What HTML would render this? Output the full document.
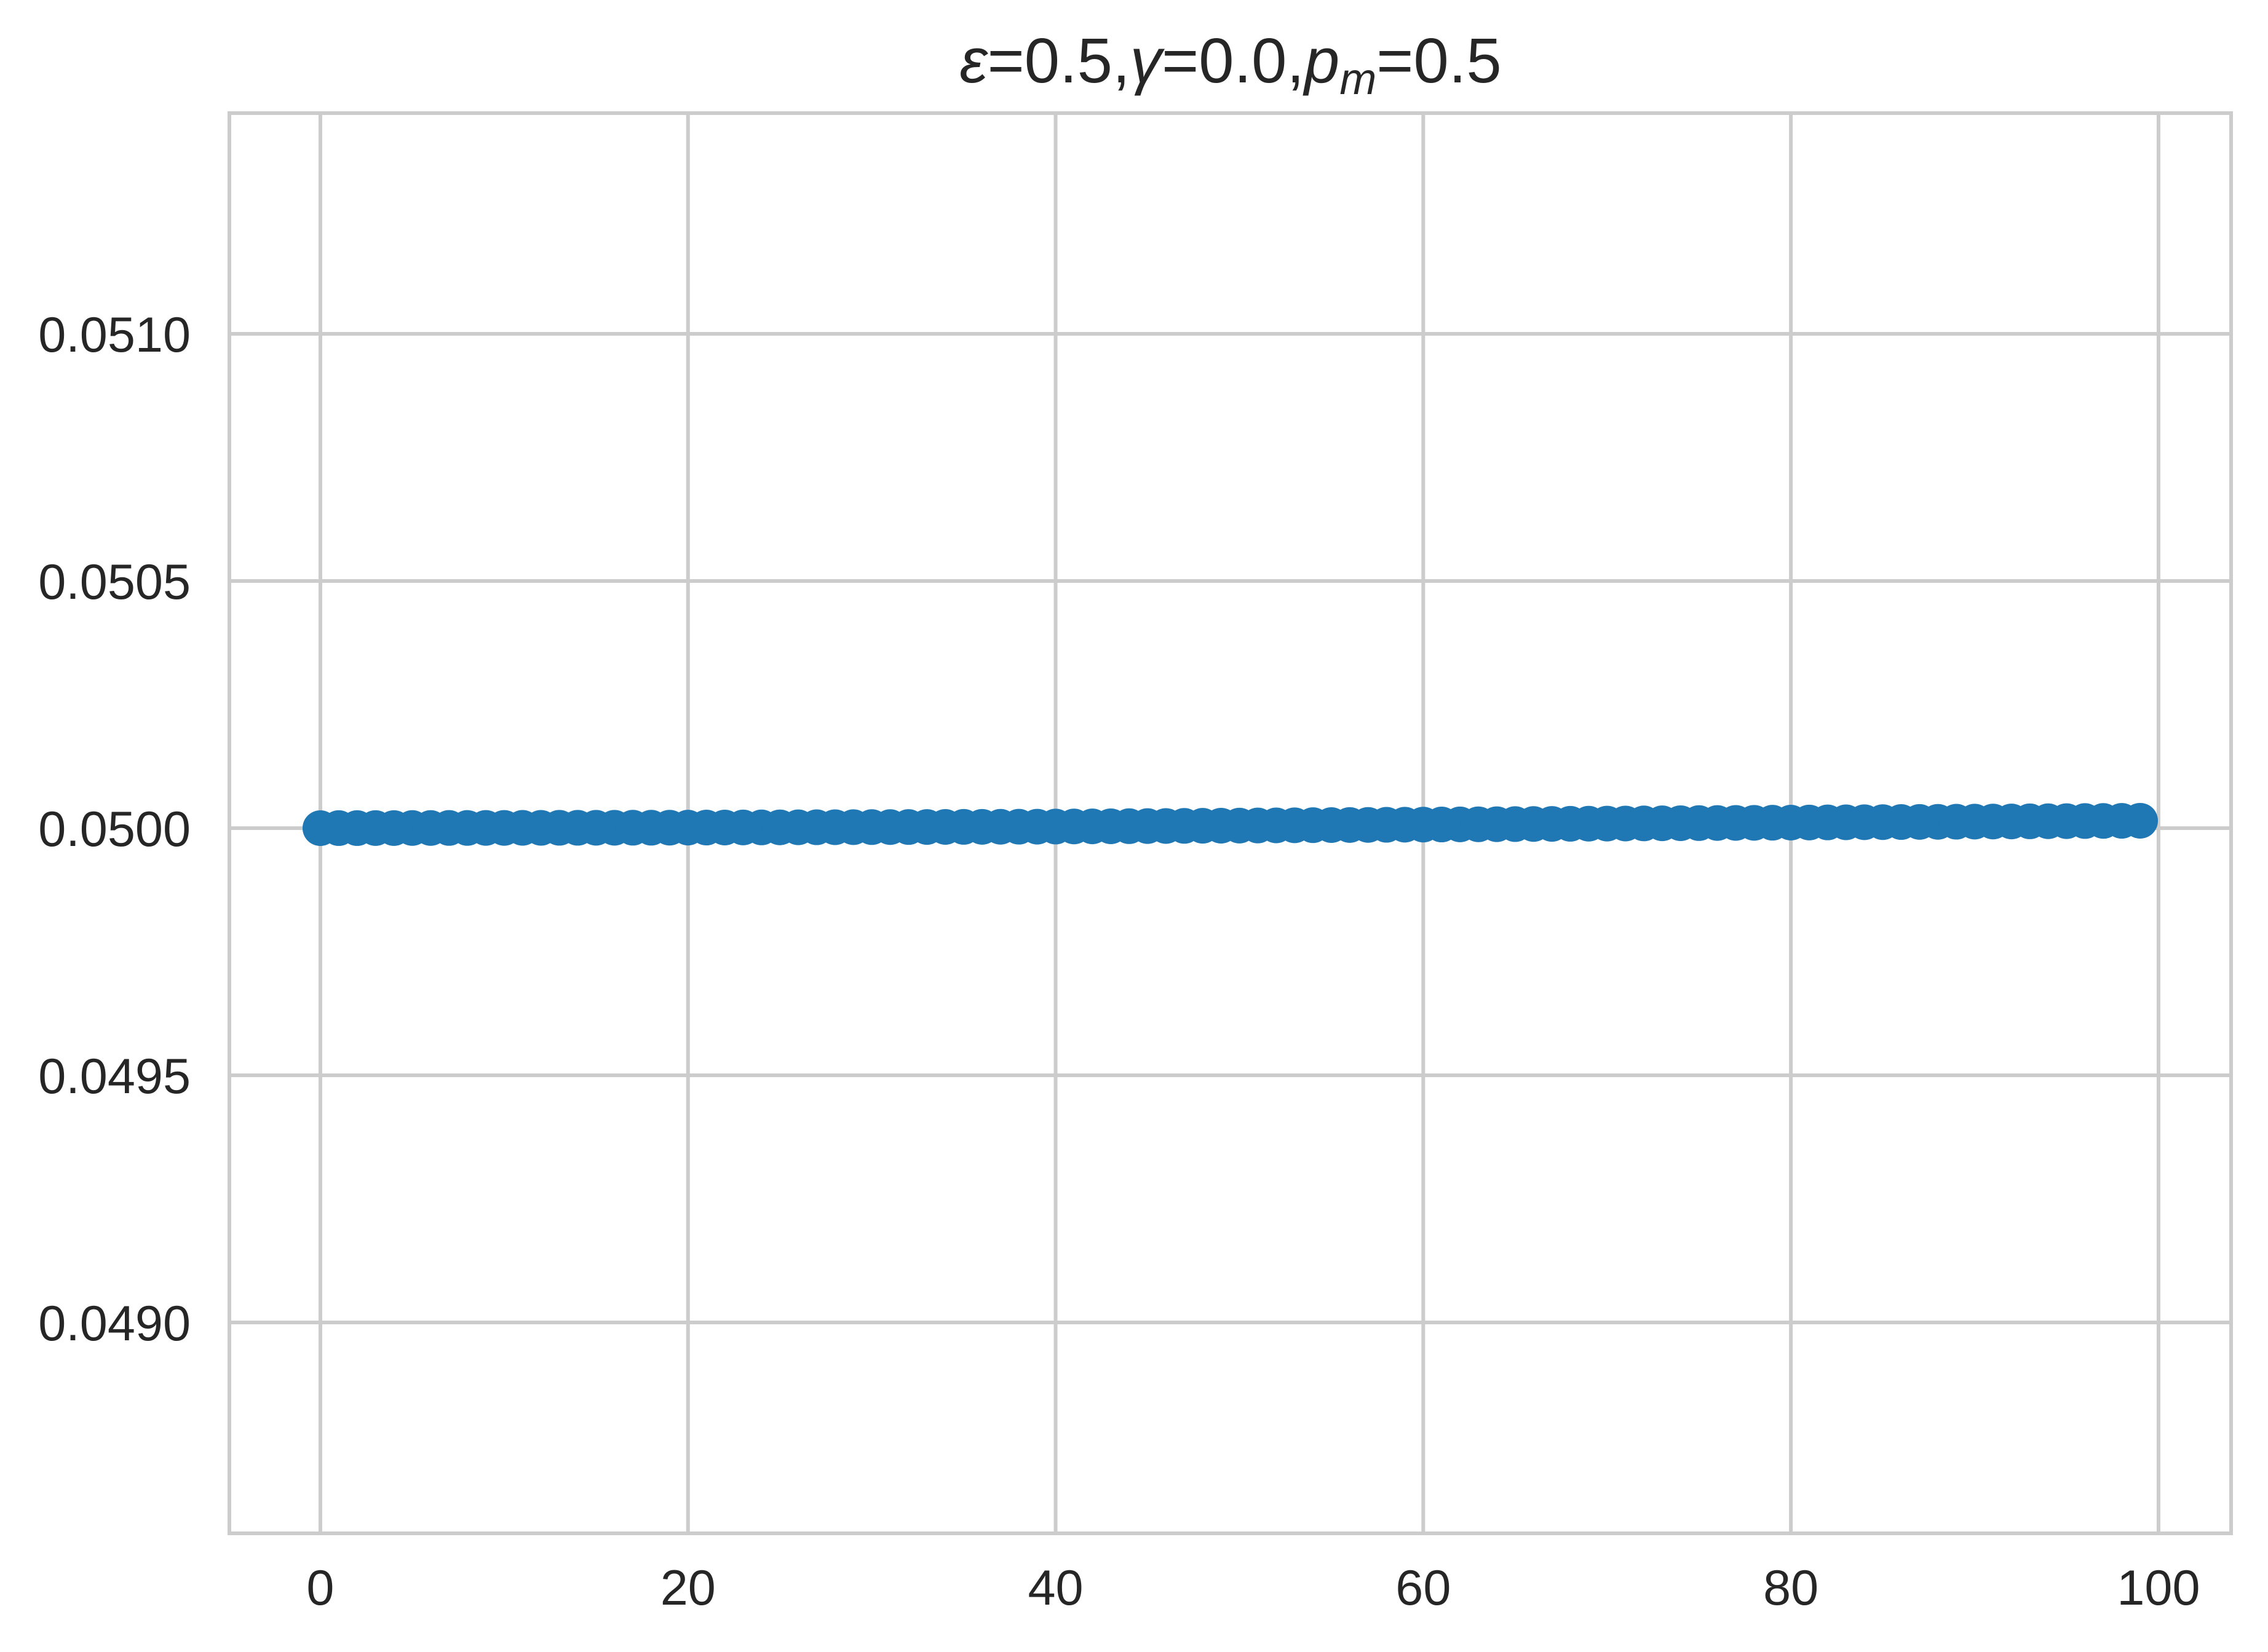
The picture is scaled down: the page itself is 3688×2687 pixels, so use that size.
<!DOCTYPE html>
<html><head><meta charset="utf-8"><style>
html,body{margin:0;padding:0;background:#fff;}
svg{display:block;font-family:"Liberation Sans",Arial,sans-serif;}
</style></head><body>
<svg id="chart" width="3688" height="2687" viewBox="0 0 3688 2687" xmlns="http://www.w3.org/2000/svg">
<rect x="0" y="0" width="3688" height="2687" fill="#ffffff"/>
<g id="grid"></g>
<g id="series"></g>
<rect x="373" y="184" width="3255" height="2310" fill="none" stroke="#cccccc" stroke-width="6"/>
<g id="xticks"></g>
<g id="yticks"></g>
<text x="2001" y="134" text-anchor="middle" font-size="103" fill="#262626"><tspan font-style="italic">ε</tspan>=0.5,<tspan font-style="italic">γ</tspan>=0.0,<tspan font-style="italic">p</tspan><tspan font-style="italic" font-size="72" dy="19">m</tspan><tspan dy="-19">=0.5</tspan></text>
</svg>
<script>
const xTicks = [0, 20, 40, 60, 80, 100];
const yTicks = [0.0490, 0.0495, 0.0500, 0.0505, 0.0510];
const yTickLabels = ["0.0490", "0.0495", "0.0500", "0.0505", "0.0510"];
const values = [
0.0500000,0.0500001,0.0500001,0.0500002,0.0500002,0.0500003,0.0500003,0.0500004,0.0500004,0.0500005,
0.0500005,0.0500006,0.0500006,0.0500007,0.0500007,0.0500008,0.0500008,0.0500009,0.0500009,0.0500010,
0.0500011,0.0500012,0.0500013,0.0500014,0.0500015,0.0500016,0.0500017,0.0500018,0.0500019,0.0500020,
0.0500021,0.0500022,0.0500023,0.0500024,0.0500025,0.0500026,0.0500027,0.0500028,0.0500029,0.0500030,
0.0500032,0.0500034,0.0500036,0.0500038,0.0500040,0.0500042,0.0500044,0.0500046,0.0500048,0.0500050,
0.0500052,0.0500054,0.0500056,0.0500058,0.0500060,0.0500062,0.0500064,0.0500066,0.0500068,0.0500070,
0.0500072,0.0500074,0.0500076,0.0500078,0.0500080,0.0500082,0.0500084,0.0500086,0.0500088,0.0500090,
0.0500092,0.0500094,0.0500096,0.0500098,0.0500100,0.0500102,0.0500104,0.0500106,0.0500108,0.0500110,
0.0500112,0.0500114,0.0500116,0.0500118,0.0500120,0.0500122,0.0500124,0.0500126,0.0500128,0.0500130,
0.0500132,0.0500134,0.0500136,0.0500138,0.0500140,0.0500142,0.0500144,0.0500146,0.0500148,0.0500150
];
const NS = "http://www.w3.org/2000/svg";
const X0 = 373, X1 = 3628, Y0 = 184, Y1 = 2494;
const xMin = -4.95, xMax = 103.95;
const yMin = 0.0500 - 1147/804000, yMax = 0.0500 + 1163/804000;
function xs(v){ return X0 + (v - xMin) / (xMax - xMin) * (X1 - X0); }
function ys(v){ return Y1 - (v - yMin) / (yMax - yMin) * (Y1 - Y0); }
function mk(tag, attrs){ const e = document.createElementNS(NS, tag); for (const k in attrs) e.setAttribute(k, attrs[k]); return e; }
const grid = document.getElementById('grid');
xTicks.forEach(t => {
  const l = mk('line', {x1: xs(t), x2: xs(t), y1: Y0, y2: Y1, stroke: '#cccccc', 'stroke-width': 6});
  
  
  grid.appendChild(l);
  const tx = mk('text', {x: xs(t), y: 2610, 'text-anchor': 'middle', 'font-size': 81, fill: '#262626'});
  tx.textContent = String(t);
  
  
  document.getElementById('xticks').appendChild(tx);
});
yTicks.forEach((t, i) => {
  const l = mk('line', {x1: X0, x2: X1, y1: ys(t), y2: ys(t), stroke: '#cccccc', 'stroke-width': 6});
  
  
  grid.appendChild(l);
  const tx = mk('text', {x: 310, y: ys(t) + 29, 'text-anchor': 'end', 'font-size': 81, fill: '#262626'});
  tx.textContent = yTickLabels[i];
  
  
  document.getElementById('yticks').appendChild(tx);
});
const series = document.getElementById('series');
const pts = values.map((v, i) => xs(i) + ',' + ys(v)).join(' ');
const line = mk('polyline', {points: pts, fill: 'none', stroke: '#1f77b4', 'stroke-width': 10});


series.appendChild(line);
values.forEach((v, i) => {
  const c = mk('circle', {cx: xs(i), cy: ys(v), r: 29, fill: '#1f77b4'});
  
  
  series.appendChild(c);
});
</script>
</body></html>
